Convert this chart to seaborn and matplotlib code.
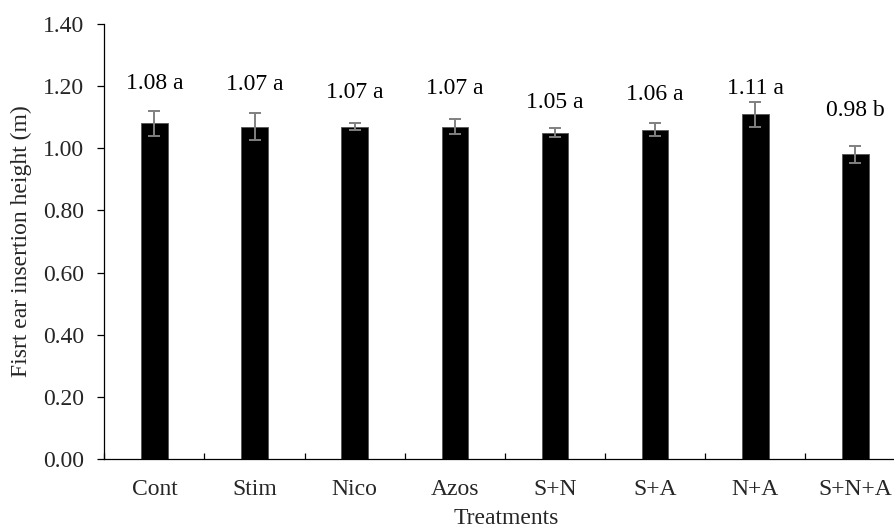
import matplotlib
matplotlib.use("Agg")
import matplotlib.pyplot as plt
from matplotlib.ticker import FixedLocator, FormatStrFormatter
import seaborn as sns
import pandas as pd
import numpy as np

# Treatment means, standard errors and significance letters
treatments = ["Cont", "Stim", "Nico", "Azos", "S+N", "S+A", "N+A", "S+N+A"]
heights = [1.08, 1.07, 1.07, 1.07, 1.05, 1.06, 1.11, 0.98]
errors = [0.04, 0.042, 0.01, 0.025, 0.014, 0.02, 0.04, 0.028]
letters = ["a", "a", "a", "a", "a", "a", "a", "b"]
# vertical anchor of each value label
label_y = [1.210, 1.204, 1.181, 1.194, 1.146, 1.172, 1.194, 1.123]

df = pd.DataFrame({"Treatment": treatments, "Height": heights})

sns.set_theme(style="ticks")
plt.rcParams["font.family"] = ["Liberation Serif", "DejaVu Serif"]
plt.rcParams["font.size"] = 17

fig = plt.figure(figsize=(8.94, 5.31), dpi=100)
ax = fig.add_axes([0.1167, 0.1356, 0.8833, 0.8192])

sns.barplot(data=df, x="Treatment", y="Height", color="black",
            width=0.265, errorbar=None, saturation=1, ax=ax)
for p in ax.patches:
    p.set_edgecolor("#555555")
    p.set_linewidth(0.6)

xpos = np.arange(len(treatments))
ax.errorbar(xpos, heights, yerr=errors, fmt="none", ecolor="#808080",
            elinewidth=1.4, capsize=4.4, capthick=1.4, zorder=3)

for x, h, lt, ly in zip(xpos, heights, letters, label_y):
    ax.text(x, ly, f"{h:.2f} {lt}", ha="center", va="center",
            fontsize=17, color="black")

ax.set_ylim(0, 1.40)
ax.set_yticks(np.arange(0, 1.41, 0.2))
ax.yaxis.set_major_formatter(FormatStrFormatter("%.2f"))
ax.set_xlim(-0.5, 7.385)

ax.xaxis.set_minor_locator(FixedLocator(np.arange(-0.5, 8, 1.0)))
ax.tick_params(axis="x", which="major", length=0, pad=14.5, labelsize=17)
ax.tick_params(axis="x", which="minor", direction="in", length=4,
               width=0.9, color="black")
ax.tick_params(axis="y", which="major", direction="out", length=4.75,
               width=0.9, color="black", labelsize=17, pad=9.9)

ax.set_xlabel("Treatments", fontsize=17, va="top")
ax.xaxis.set_label_coords(0.509, -0.113)
ax.set_ylabel("Fisrt ear insertion height (m)", fontsize=17)
ax.yaxis.set_label_coords(-0.091, 0.5)

for side in ["top", "right"]:
    ax.spines[side].set_visible(False)
for side in ["left", "bottom"]:
    ax.spines[side].set_linewidth(0.9)
    ax.spines[side].set_color("black")

fig.savefig("out.png", dpi=100)
